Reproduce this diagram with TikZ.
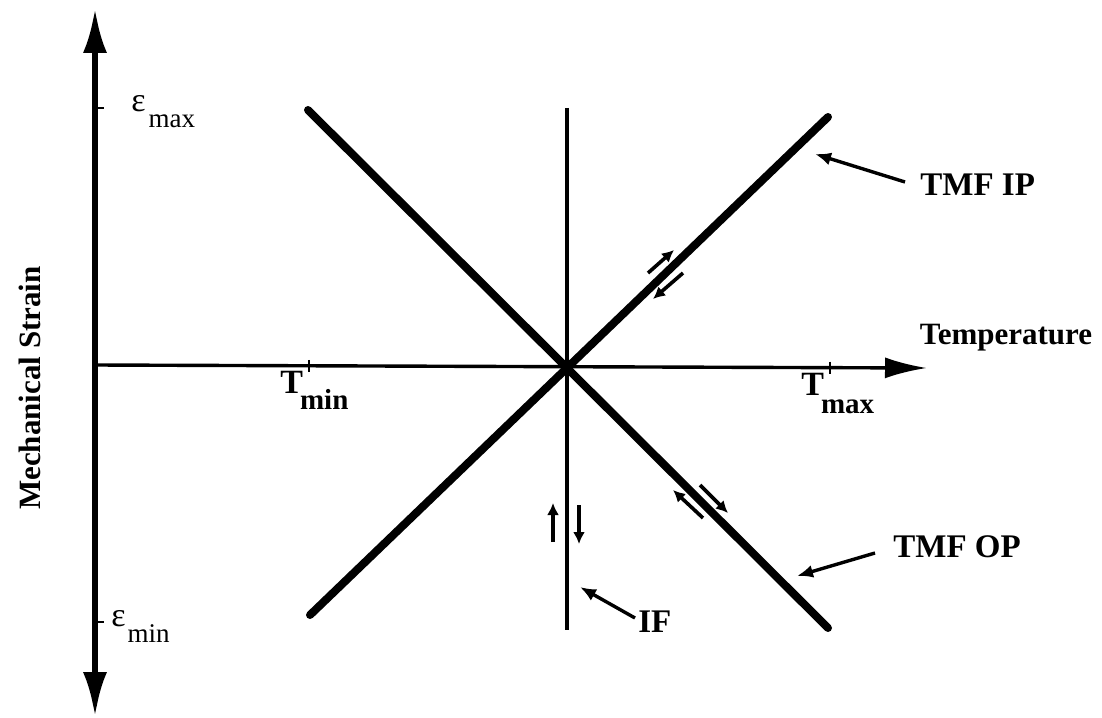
\documentclass[tikz,border=0pt]{standalone}
\usepackage{fontspec}
\setmainfont{Liberation Serif}
\usetikzlibrary{arrows.meta}
\begin{document}
\begin{tikzpicture}[x=0.5pt,y=-0.5pt,
  lbl/.style={font=\bfseries\fontsize{16.5pt}{19pt}\selectfont, inner sep=0pt},
  axlbl/.style={font=\bfseries\fontsize{15.5pt}{18pt}\selectfont, inner sep=0pt},
  ticklbl/.style={inner sep=0pt, anchor=west},
  thick line/.style={line width=4pt, line cap=round},
  ptr/.style={line width=1.7pt, -{Latex[length=8pt,width=6.5pt]}},
  dir/.style={line width=1.8pt, -{Latex[length=6pt,width=6pt]}}
]
\useasboundingbox (0,0) rectangle (1102,717);
% coordinates
\coordinate (vb) at (95,717);
\coordinate (vt) at (95,8);
\coordinate (hl) at (95,365);
\coordinate (hr) at (927,368);
\coordinate (O) at (567,367);
\coordinate (ipa) at (310,615);
\coordinate (ipb) at (828,117);
\coordinate (opa) at (308,110);
\coordinate (opb) at (828,628);
\coordinate (ifa) at (567,108);
\coordinate (ifb) at (567,630);
% axes
\draw[line width=3.2pt, {Latex[length=22.5pt,width=12pt]}-{Latex[length=22.5pt,width=12pt]}] (vb) -- (vt);
\draw[line width=1.7pt, -{Latex[length=21pt,width=10.5pt]}] (hl) -- (hr);
% ticks
\coordinate (emaxt) at (95,108);
\coordinate (emint) at (95,622);
\coordinate (tmint) at (309,365.8);
\coordinate (tmaxt) at (830,367.7);
\draw[line width=1.2pt] (emaxt) -- ++(9,0);
\draw[line width=1.2pt] (emint) -- ++(9,0);
\draw[line width=1.2pt] (tmint) ++(0,-6) -- ++(0,12);
\draw[line width=1.2pt] (tmaxt) ++(0,-6) -- ++(0,12);
% main lines
\draw[thick line] (ipa) -- (ipb);
\draw[thick line] (opa) -- (opb);
\draw[line width=2pt] (ifa) -- (ifb);
% labels
\node[ticklbl] (emax) at (131,112) {\fontsize{17pt}{20pt}\selectfont ε\hspace{1.5pt}\raisebox{-8pt}{\fontsize{13.5pt}{16pt}\selectfont max}};
\node[ticklbl] (emin) at (111,626) {\fontsize{17pt}{20pt}\selectfont ε\hspace{1pt}\raisebox{-8pt}{\fontsize{13.5pt}{16pt}\selectfont min}};
\node[ticklbl, font=\bfseries] (tmin) at (280,390) {\fontsize{17pt}{20pt}\selectfont T\hspace{-1.5pt}\raisebox{-8pt}{\fontsize{14.5pt}{17pt}\selectfont min}};
\node[ticklbl, font=\bfseries] (tmax) at (801,394) {\fontsize{17pt}{20pt}\selectfont T\hspace{-1.5pt}\raisebox{-9pt}{\fontsize{14.5pt}{17pt}\selectfont max}};
\node[axlbl] (temp) at (1006,338) {Temperature};
\node[axlbl, rotate=90] (mech) at (30,388) {Mechanical Strain};
\node[lbl, anchor=west] (iplbl) at (920,185) {TMF IP};
\node[lbl, anchor=west] (oplbl) at (893,547) {TMF OP};
\node[lbl, anchor=west] (iflbl) at (638,622) {IF};
% pointers
\coordinate (ipt) at (815,154);
\coordinate (opt) at (797,576);
\coordinate (ift) at (580,587);
\draw[ptr] (905,182) -- (ipt);
\draw[ptr] (875,553) -- (opt);
\draw[ptr] (635,618) -- (ift);
% direction arrows
\coordinate (d1a) at (648,273); \coordinate (d1b) at (674,250);
\coordinate (d2a) at (683,273); \coordinate (d2b) at (653,299);
\coordinate (d3a) at (703,518); \coordinate (d3b) at (673,490);
\coordinate (d4a) at (700,485); \coordinate (d4b) at (728,513);
\coordinate (d5a) at (553,542); \coordinate (d5b) at (553,503);
\coordinate (d6a) at (579,505); \coordinate (d6b) at (579,544);
\draw[dir] (d1a) -- (d1b);
\draw[dir] (d2a) -- (d2b);
\draw[dir] (d3a) -- (d3b);
\draw[dir] (d4a) -- (d4b);
\draw[dir] (d5a) -- (d5b);
\draw[dir] (d6a) -- (d6b);
\end{tikzpicture}
\end{document}
